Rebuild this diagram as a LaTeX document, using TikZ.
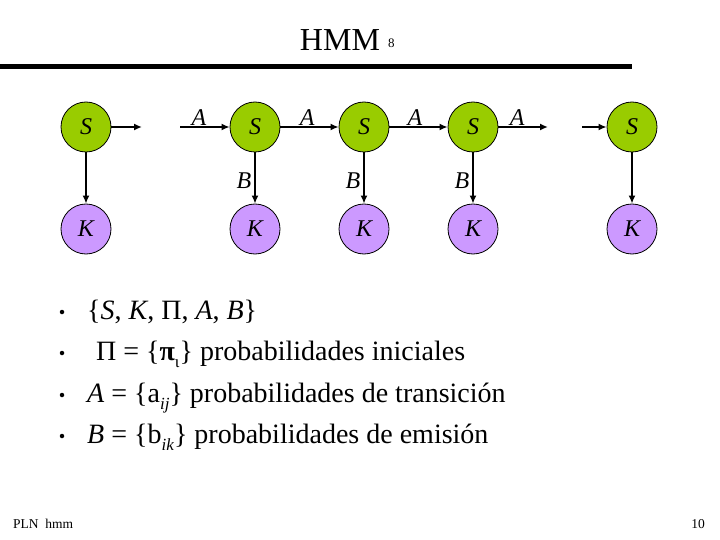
\documentclass[tikz,border=0pt]{standalone}
\usepackage{fontspec}
\setmainfont{Liberation Serif}
\usetikzlibrary{arrows.meta}
\definecolor{sgreen}{RGB}{153,204,0}
\definecolor{kpurple}{RGB}{204,153,255}
\newcommand{\lowsub}[1]{\raisebox{-0.28em}{\fontsize{17}{17}\selectfont #1}}
\begin{document}
\begin{tikzpicture}[x=1pt,y=-1pt,
  snode/.style={circle,draw=black,line width=0.8pt,fill=sgreen,minimum size=50pt,inner sep=0pt,font=\fontsize{24}{24}\selectfont\itshape},
  knode/.style={circle,draw=black,line width=0.8pt,fill=kpurple,minimum size=50pt,inner sep=0pt,font=\fontsize{24}{24}\selectfont\itshape},
  arr/.style={line width=1.6pt,-{Latex[length=8pt,width=7pt]}},
  lab/.style={font=\fontsize{24}{24}\selectfont\itshape,inner sep=1pt},
  body/.style={anchor=base west,inner sep=0pt,font=\fontsize{28}{32}\selectfont},
  bullet/.style={circle,fill=black,inner sep=0pt,minimum size=4.5pt}
]
\useasboundingbox (0,0) rectangle (720,540);
% title
\node[anchor=base,inner sep=0pt,font=\fontsize{32}{32}\selectfont] (title) at (340,51) {HMM};
\node[anchor=base west,inner sep=0pt,font=\fontsize{13}{13}\selectfont] (tnum) at (388,48) {8};
\fill (0,64) rectangle (632,69);
% nodes
\node[snode] (S1) at (86,127) {S};
\node[knode] (K1) at (86,229) {K};
\node[snode] (S2) at (255,127) {S};
\node[knode] (K2) at (255,229) {K};
\node[snode] (S3) at (364,127) {S};
\node[knode] (K3) at (364,229) {K};
\node[snode] (S4) at (473,127) {S};
\node[knode] (K4) at (473,229) {K};
\node[snode] (S5) at (632,127) {S};
\node[knode] (K5) at (632,229) {K};
\coordinate (o1) at (142,127);
\coordinate (i2) at (180,127);
\coordinate (o4) at (548,127);
\coordinate (i5) at (582,127);
% horizontal arrows
\draw[arr] (S1) -- (o1);
\draw[arr] (i2) -- node[lab,above,pos=0.38]{A} (S2);
\draw[arr] (S2) -- node[lab,above,pos=0.46]{A} (S3);
\draw[arr] (S3) -- node[lab,above,pos=0.44]{A} (S4);
\draw[arr] (S4) -- node[lab,above,pos=0.38]{A} (o4);
\draw[arr] (i5) -- (S5);
% vertical arrows
\draw[arr] (S1) -- (K1);
\draw[arr] (S2) -- node[lab,left,pos=0.55,xshift=-2pt]{B} (K2);
\draw[arr] (S3) -- node[lab,left,pos=0.55,xshift=-2pt]{B} (K3);
\draw[arr] (S4) -- node[lab,left,pos=0.55,xshift=-2pt]{B} (K4);
\draw[arr] (S5) -- (K5);
% bullets
\node[bullet] (b1) at (62,312) {};
\node[bullet] (b2) at (62,353) {};
\node[bullet] (b3) at (62,395) {};
\node[bullet] (b4) at (62,436) {};
\node[body] (t1) at (87,319) {\{\textit{S}, \textit{K}, Π, \textit{A}, \textit{B}\}};
\node[body] (t2) at (96,360) {Π = \{\textbf{π}\lowsub{ι}\} probabilidades iniciales};
\node[body] (t3) at (87,402) {\textit{A} = \{a\lowsub{\textit{ij}}\} probabilidades de transición};
\node[body] (t4) at (87,443) {\textit{B} = \{b\lowsub{\textit{ik}}\} probabilidades de emisión};
% footer
\node[anchor=base west,inner sep=0pt,font=\fontsize{13.5}{14}\selectfont] (foot) at (13,528) {PLN\ \ hmm};
\node[anchor=base east,inner sep=0pt,font=\fontsize{13.5}{14}\selectfont] (page) at (705,528) {10};
\end{tikzpicture}
\end{document}
